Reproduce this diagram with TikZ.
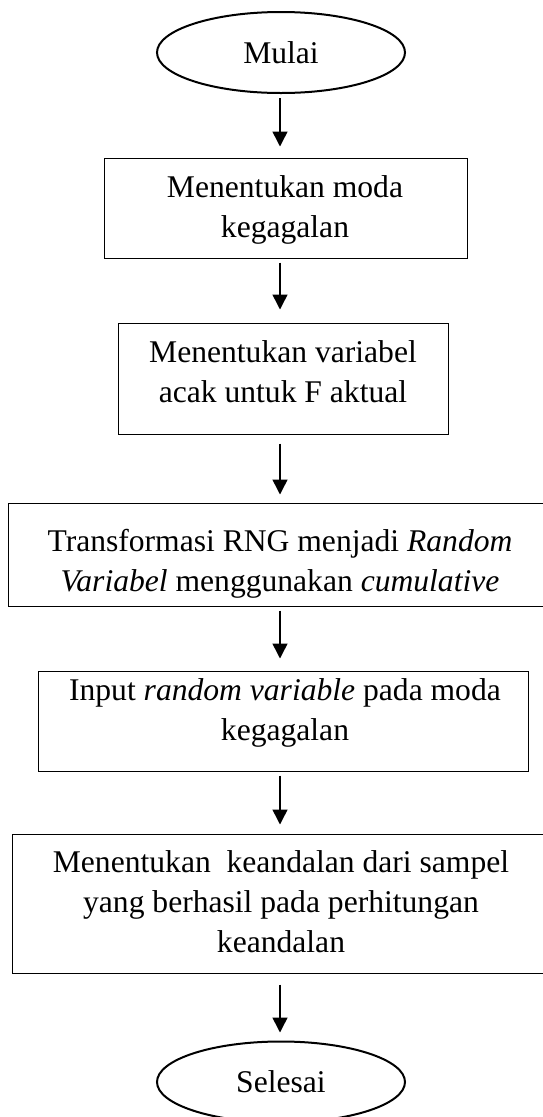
\documentclass[tikz,border=0pt]{standalone}
\usepackage{fontspec}
\setmainfont{Liberation Serif}
\usetikzlibrary{arrows.meta,shapes.geometric}
\begin{document}
\begin{tikzpicture}[x=1pt,y=1pt,
  every node/.style={font=\fontsize{31.6}{40}\selectfont},
  boxnode/.style={draw=black, line width=1pt, rectangle, inner sep=0pt},
  ovalnode/.style={draw=black, line width=2pt, ellipse, minimum width=248pt, minimum height=81pt, inner sep=0pt},
  txt/.style={align=center, inner sep=0pt},
  arr/.style={line width=1.5pt, -{Triangle[width=15pt,length=15pt]}},
  gap/.style 2 args={shorten <=#1pt, shorten >=#2pt}]
\useasboundingbox (0,0) rectangle (543,-1117);
\coordinate (ax) at (280,0);

\node[ovalnode] (start) at (281,-52.5) {Mulai};

\node[boxnode, minimum width=363pt, minimum height=100pt] (b1) at (285.5,-208) {};
\node[txt] (t1) at (285,-209) {\strut Menentukan moda\\kegagalan\strut};

\node[boxnode, minimum width=330pt, minimum height=111pt] (b2) at (283,-378.5) {};
\node[txt] (t2) at (283,-374.5) {\strut Menentukan variabel\\acak untuk F aktual\strut};

\node[boxnode, minimum width=537pt, minimum height=103pt] (b3) at (276.5,-554.5) {};
\node[txt] (t3) at (280,-563) {\strut Transformasi RNG menjadi \textit{Random}\\\textit{Variabel} menggunakan \textit{cumulative}\strut};

\node[boxnode, minimum width=490pt, minimum height=100pt] (b4) at (283,-721) {};
\node[txt] (t4) at (285,-712) {\strut Input \textit{random variable} pada moda\\kegagalan\strut};

\node[boxnode, minimum width=533pt, minimum height=139pt] (b5) at (278.5,-903.5) {};
\node[txt] (t5) at (281,-904.5) {\strut Menentukan\ \ keandalan dari sampel\\yang berhasil pada perhitungan\\keandalan\strut};

\node[ovalnode] (stop) at (281,-1082) {Selesai};

\draw[arr, gap={4}{11}] (start.south -| ax) -- (b1.north -| ax);
\draw[arr, gap={4}{13}] (b1.south -| ax) -- (b2.north -| ax);
\draw[arr, gap={9}{8}] (b2.south -| ax) -- (b3.north -| ax);
\draw[arr, gap={4}{12}] (b3.south -| ax) -- (b4.north -| ax);
\draw[arr, gap={4}{9}] (b4.south -| ax) -- (b5.north -| ax);
\draw[arr, gap={11}{8}] (b5.south -| ax) -- (stop.north -| ax);
\end{tikzpicture}
\end{document}
